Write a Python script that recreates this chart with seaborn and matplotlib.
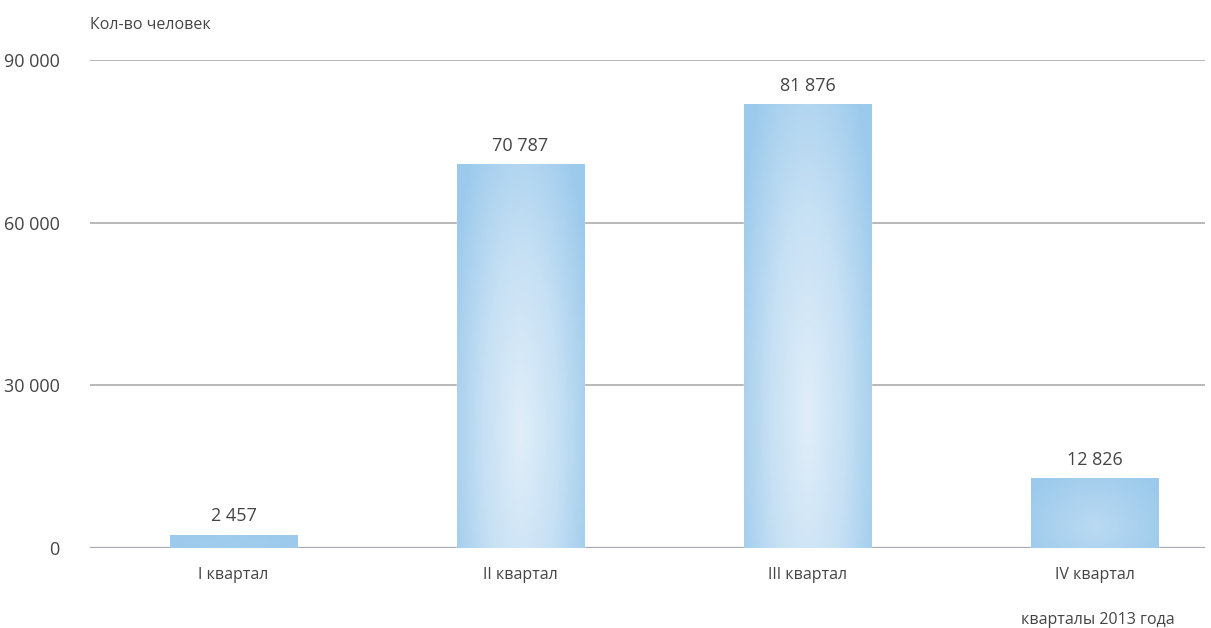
"""
Quarterly headcount bar chart with soft radial gradient bars
"""

import matplotlib.pyplot as plt
import seaborn as sns
import pandas as pd
import numpy as np
from matplotlib.colors import LinearSegmentedColormap

# Data
quarters = ['I квартал', 'II квартал', 'III квартал', 'IV квартал']
people = [2457, 70787, 81876, 12826]
y_ticks = [0, 30000, 60000, 90000]

sns.set_style("white")
plt.rcParams['font.family'] = ['Open Sans', 'DejaVu Sans']

df = pd.DataFrame({'quarter': quarters, 'people': people})

fig = plt.figure(figsize=(12.11, 6.28), dpi=100)
ax = fig.add_axes([0.0743, 0.1274, 0.9207, 0.7771])

edge_col = '#9ccaec'
sns.barplot(data=df, x='quarter', y='people', color=edge_col, saturation=1,
            width=0.443, ax=ax, zorder=3)

# radial gradient inside each bar, weaker on short bars
cmap = LinearSegmentedColormap.from_list('bar', ['#e1eef9', '#c6e0f4', edge_col])
gx, gy = np.meshgrid(np.linspace(0, 1, 200), np.linspace(0, 1, 200))
for patch in ax.patches:
    x0, y0 = patch.get_x(), patch.get_y()
    w, h = patch.get_width(), patch.get_height()
    d = np.clip(np.sqrt(((gx - 0.5) / 0.6) ** 2 + ((gy - 0.3) / 0.95) ** 2), 0, 1)
    strength = min(1.0, h / 35000)
    d = 1 - (1 - d) * strength
    im = ax.imshow(d, cmap=cmap, vmin=0, vmax=1, origin='lower',
                   extent=[x0, x0 + w, y0, y0 + h], aspect='auto', zorder=3.5,
                   interpolation='bilinear')
    im.set_clip_path(patch)
    # value label
    ax.text(x0 + w / 2, h + 1700, f'{int(h):,}'.replace(',', ' '),
            ha='center', va='bottom', fontsize=13, color='#454545')

ax.set_xlim(-0.5, 3.385)
ax.set_ylim(0, 90000)
ax.set_yticks(y_ticks)
ax.set_yticklabels([f'{v:,}'.replace(',', ' ') for v in y_ticks],
                   fontsize=13, color='#454545')
ax.tick_params(axis='y', length=0, pad=22)
ax.tick_params(axis='x', length=0, pad=14, labelsize=11.5, labelcolor='#454545')
ax.set_xlabel('')
ax.set_ylabel('')

for v in y_ticks:
    ax.axhline(v, color='#a6a6a6' if v else '#a9a9b4', lw=1.1 if v else 1.6, zorder=1)

for s in ax.spines.values():
    s.set_visible(False)

fig.text(90 / 1211, 1 - 25 / 628, 'Кол-во человек', ha='left', va='center',
         fontsize=11.5, color='#454545')
fig.text(1175 / 1211, 1 - 620 / 628, 'кварталы 2013 года', ha='right', va='center',
         fontsize=11.5, color='#454545')

plt.savefig('out.png', dpi=100)
